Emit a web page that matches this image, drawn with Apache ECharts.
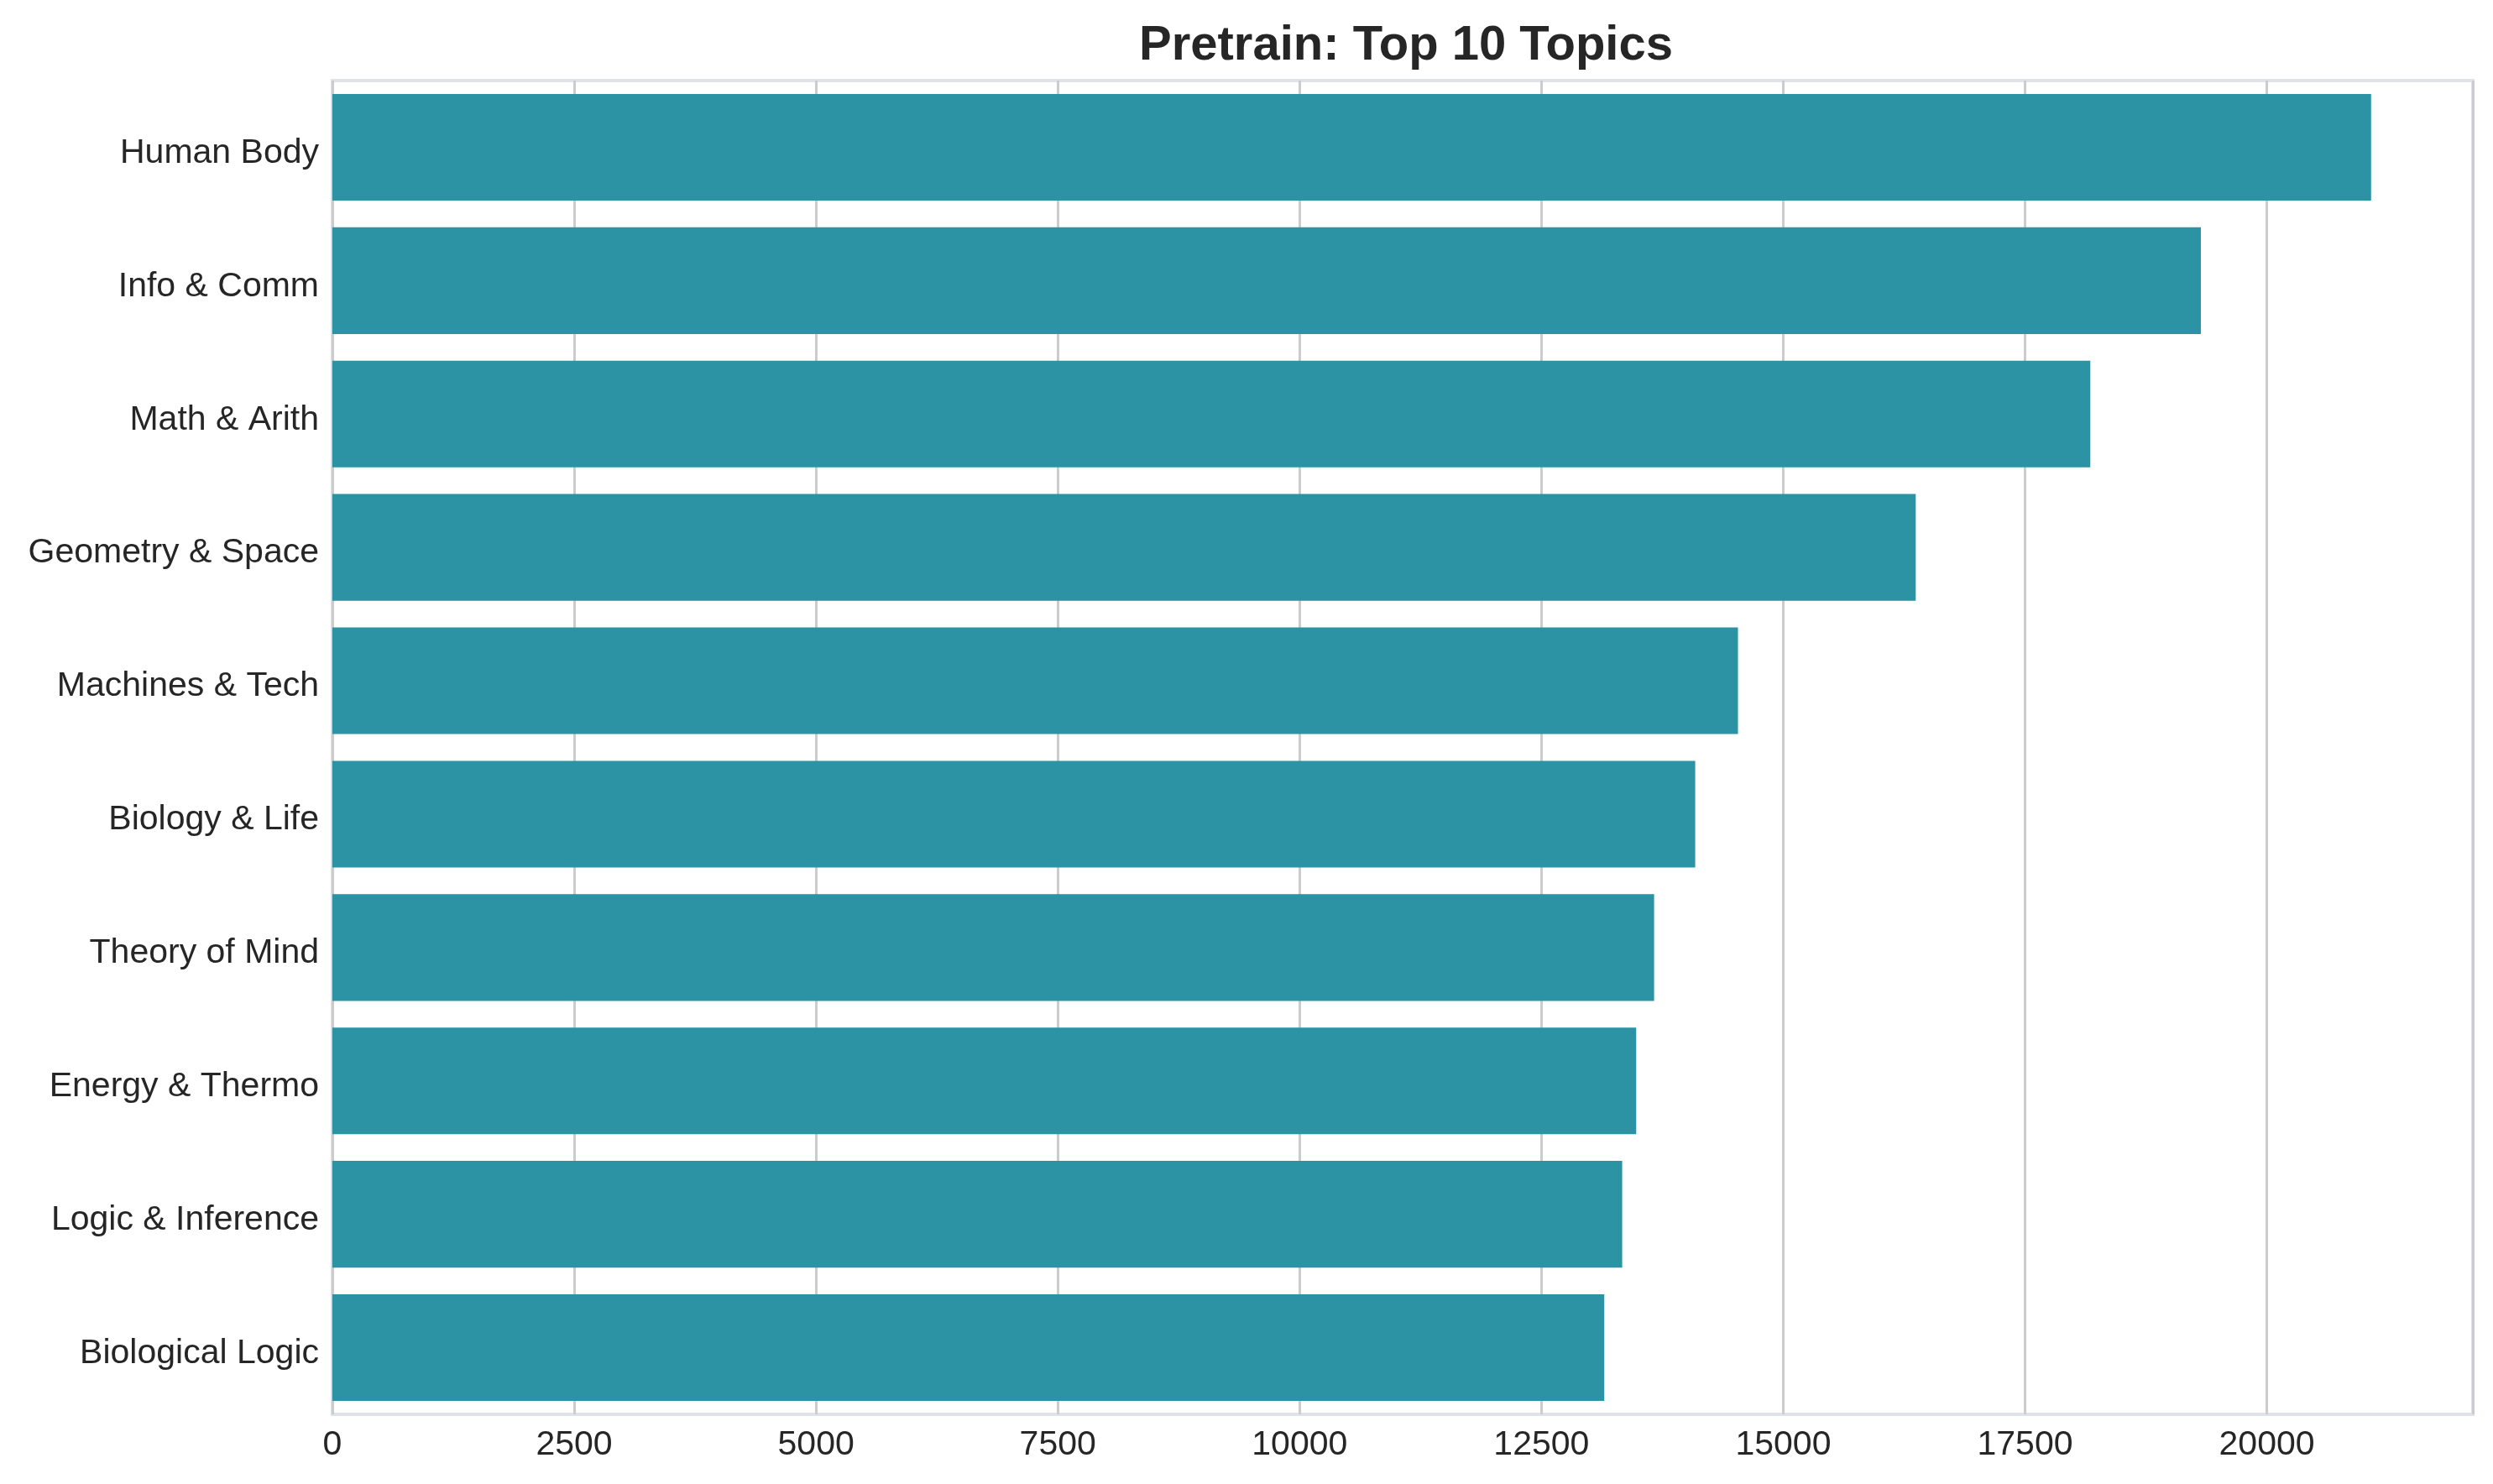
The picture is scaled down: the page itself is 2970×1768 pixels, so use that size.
<!DOCTYPE html>
<html>
<head>
<meta charset="utf-8">
<script src="https://cdn.jsdelivr.net/npm/echarts@6/dist/echarts.min.js"></script>
<style>
html,body{margin:0;padding:0;background:#fff;}
#chart{width:2970px;height:1768px;}
</style>
</head>
<body>
<div id="chart"></div>
<script>
const titleText = 'Pretrain: Top 10 Topics';
const categories = ['Human Body','Info & Comm','Math & Arith','Geometry & Space','Machines & Tech','Biology & Life','Theory of Mind','Energy & Thermo','Logic & Inference','Biological Logic'];
const counts = [21078, 19318, 18175, 16370, 14532, 14090, 13665, 13480, 13335, 13150];
const xTickInterval = 2500;
const xMax = 22130;

const chart = echarts.init(document.getElementById('chart'), null, {renderer:'canvas'});
chart.setOption({
  animation:false,
  backgroundColor:'#ffffff',
  textStyle:{fontFamily:'Liberation Sans, Arial, sans-serif'},
  title:{
    text:titleText,
    left:1670, textAlign:'center', top:21,
    textStyle:{fontSize:58, fontWeight:'bold', color:'#262626', fontFamily:'Liberation Sans, Arial, sans-serif'}
  },
  grid:{
    left:396, right:24, top:96, bottom:83,
    show:true, borderColor:'#dfe2e6', borderWidth:4, backgroundColor:'transparent'
  },
  xAxis:{
    type:'value', min:0, max:xMax, interval:xTickInterval,
    axisLine:{show:false}, axisTick:{show:false},
    axisLabel:{fontSize:41, color:'#262626', margin:16, showMaxLabel:false,
      formatter:function(v){return String(v);},
      fontFamily:'Liberation Sans, Arial, sans-serif'},
    splitLine:{show:true, lineStyle:{color:'#cccccc', width:3}}
  },
  yAxis:{
    type:'category', data:categories, inverse:true,
    axisLine:{show:false}, axisTick:{show:false},
    axisLabel:{fontSize:41, color:'#262626', margin:16,
      formatter:function(v){return '{t|' + v + '}';},
      rich:{t:{fontSize:41, color:'#262626', padding:[14,0,0,0],
        fontFamily:'Liberation Sans, Arial, sans-serif'}},
      fontFamily:'Liberation Sans, Arial, sans-serif'},
    splitLine:{show:false}
  },
  series:[{
    type:'bar', data:counts, barCategoryGap:'20%',
    itemStyle:{color:'#2c93a4'}
  }]
});
</script>
</body>
</html>
